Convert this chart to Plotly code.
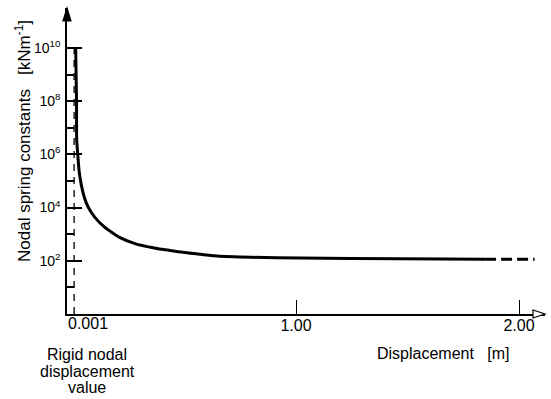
import plotly.graph_objects as go

# Curve: displacement [m] vs nodal spring constant [kN/m]
disp = [0.012, 0.0157, 0.0166, 0.021, 0.027, 0.036, 0.051, 0.069, 0.099, 0.143, 0.211, 0.278,
        0.359, 0.511, 0.646, 0.80, 1.018, 1.466, 1.848]
spring_k = [1e10, 1.1e8, 3.4e6, 1.1e6, 2.5e5, 8.1e4, 2.4e4, 1e4, 4.2e3, 1.8e3, 740, 440,
            310, 200, 151, 135, 126, 120, 115]

# Extrapolated (dashed) tail
tail_disp = [1.848, 2.07]
tail_k = [115, 115]

# Rigid nodal displacement marker
rigid_x = [0.005, 0.005]
rigid_k = [1, 1e10]

y_major = [1e2, 1e4, 1e6, 1e8, 1e10]
y_major_text = ["10<sup>2</sup>", "10<sup>4</sup>", "10<sup>6</sup>", "10<sup>8</sup>", "10<sup>10</sup>"]
y_minor = [1e1, 1e3, 1e5, 1e7, 1e9]
x_ticks = [1, 2]
x_tick_text = ["1.00", "2.00"]

FONT = "Liberation Sans"

fig = go.Figure()
fig.add_trace(go.Scatter(x=rigid_x, y=rigid_k, mode="lines",
                         line=dict(color="black", width=1.3, dash="7px,6px"),
                         hoverinfo="skip", showlegend=False))
fig.add_trace(go.Scatter(x=disp, y=spring_k, mode="lines",
                         line=dict(color="black", width=3, shape="spline", smoothing=0.5),
                         showlegend=False))
fig.add_trace(go.Scatter(x=tail_disp, y=tail_k, mode="lines",
                         line=dict(color="black", width=3, dash="11px,5px"),
                         showlegend=False))

fig.update_layout(
    width=551, height=399,
    margin=dict(l=67, r=6, t=8, b=85),
    paper_bgcolor="white", plot_bgcolor="white",
    font=dict(family=FONT, color="black", size=16),
    xaxis=dict(range=[-0.0269, 2.1166], showgrid=False, zeroline=False,
               showline=True, linecolor="black", linewidth=1.5,
               tickmode="array", tickvals=x_ticks, ticktext=x_tick_text,
               ticks="inside", ticklen=14, tickwidth=1.2, tickcolor="black",
               tickfont=dict(size=16, family=FONT), ticklabelstandoff=-4),
    yaxis=dict(type="log", range=[0, 11.5], showgrid=False, zeroline=False,
               showline=True, linecolor="black", linewidth=1.5,
               tickmode="array", tickvals=y_major, ticktext=y_major_text,
               ticks="inside", ticklen=15, tickwidth=1.5, tickcolor="black",
               tickfont=dict(size=14, family=FONT), ticklabelstandoff=2,
               minor=dict(tickmode="array", tickvals=y_minor, ticks="inside",
                          ticklen=7, tickwidth=1.5, tickcolor="black")),
)

# axis arrowheads
fig.add_shape(type="path", xref="paper", yref="paper", xsizemode="pixel", ysizemode="pixel",
              xanchor=0, yanchor=1, path="M -4 -13 L 0 0 L 4 -13 Z",
              line=dict(color="black", width=1.2), fillcolor="black")
fig.add_shape(type="path", xref="paper", yref="paper", xsizemode="pixel", ysizemode="pixel",
              xanchor=1, yanchor=0, path="M -12 4 L 0 0 L -12 -4 Z",
              line=dict(color="black", width=1.2), fillcolor="white")

ann = []
ann.append(dict(text="0.001", x=0.005, xref="x", xanchor="left", xshift=-8,
                y=0, yref="paper", yanchor="top", yshift=1, showarrow=False,
                font=dict(size=16)))
ann.append(dict(text="Displacement\u00a0\u00a0\u00a0[m]", x=(375 - 67) / 478, xref="paper", xanchor="left",
                y=(314 - 353) / 306, yref="paper", yanchor="middle", showarrow=False,
                font=dict(size=16)))
for line_txt, yc in [("Rigid nodal", 354), ("displacement", 371), ("value", 387)]:
    ann.append(dict(text=line_txt, x=(87 - 67) / 478, xref="paper", xanchor="center",
                    y=(314 - yc) / 306, yref="paper", yanchor="middle", showarrow=False,
                    font=dict(size=16)))
ann.append(dict(text="Nodal spring constants\u00a0\u00a0\u00a0[kNm<sup>-1</sup>]", textangle=-90,
                x=(23 - 67) / 478, xref="paper", xanchor="center",
                y=(314 - 264) / 306, yref="paper", yanchor="bottom", showarrow=False,
                font=dict(size=17)))
fig.update_layout(annotations=ann)

fig.write_html("out.html", config={"displayModeBar": False},
               post_script="document.body.style.margin='0';document.body.style.padding='0';")
